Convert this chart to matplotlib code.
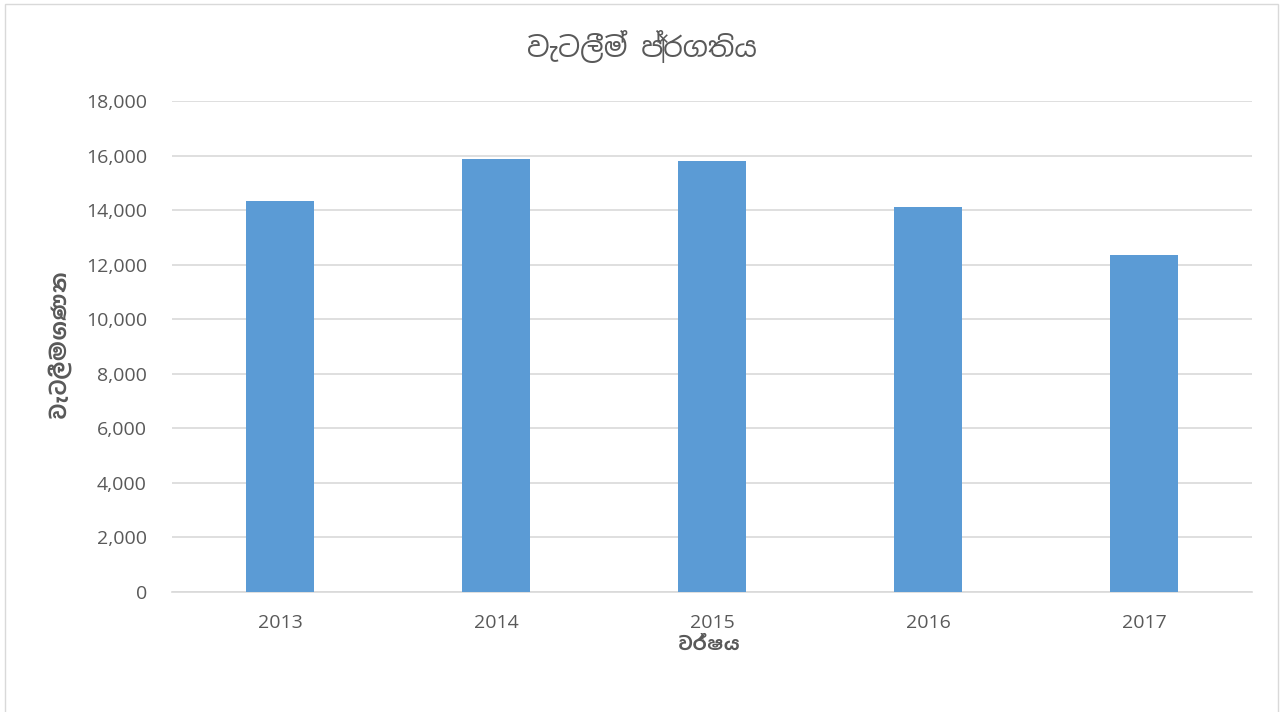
import matplotlib
matplotlib.use('Agg')
import matplotlib.pyplot as plt
from matplotlib.patches import Rectangle
from matplotlib.ticker import FuncFormatter

# data
years = ['2013', '2014', '2015', '2016', '2017']
raids = [14320, 15890, 15790, 14100, 12350]

title_text = 'වැටලීම් ප්‍රගතිය'
ylabel_text = 'වැටලීම ගණන'
xlabel_text = 'වර්ෂය'

plt.rcParams['font.family'] = ['Open Sans', 'Noto Sans Sinhala', 'DejaVu Sans']
sinhala = ['Noto Sans Sinhala', 'DejaVu Sans']
sinhala_bold = ['Hind Colombo', 'Noto Sans Sinhala', 'DejaVu Sans']
grey = '#595959'

fig = plt.figure(figsize=(12.83, 7.12), dpi=100)
ax = fig.add_axes([0.134, 0.1685, 0.842, 0.6896])

ax.bar(range(len(years)), raids, width=0.315, color='#5B9BD5', zorder=3)

ax.set_xlim(-0.5, len(years) - 0.5)
ax.set_ylim(0, 18000)
ax.set_yticks(range(0, 18001, 2000))
ax.yaxis.set_major_formatter(FuncFormatter(lambda v, p: f'{int(v):,}'))
ax.set_xticks(range(len(years)))
ax.set_xticklabels(years)

ax.grid(axis='y', color='#D9D9D9', linewidth=1.2, zorder=0)
for s in ['top', 'right', 'left']:
    ax.spines[s].set_visible(False)
ax.spines['bottom'].set_color('#D9D9D9')
ax.spines['bottom'].set_linewidth(1.2)
ax.tick_params(axis='both', length=0, labelsize=14, labelcolor=grey)
ax.tick_params(axis='x', pad=16)
ax.tick_params(axis='y', pad=18)

# title is centred on the whole chart, not on the plot area
fig.text(0.5, 0.933, title_text, ha='center', va='center', fontsize=20,
         color=grey, family=sinhala)
fig.text(0.553, 0.094, xlabel_text, ha='center', va='center', fontsize=14,
         fontweight='bold', color=grey, family=sinhala_bold)
fig.text(0.047, 0.515, ylabel_text, ha='center', va='center', rotation=90,
         fontsize=15.5, fontweight='bold', color=grey, family=sinhala_bold)

# thin chart border
fig.patches.append(Rectangle((0.004, -0.01), 0.992, 1.005, transform=fig.transFigure,
                             fill=False, edgecolor='#D9D9D9', linewidth=1))

fig.savefig('out.png', dpi=100)
